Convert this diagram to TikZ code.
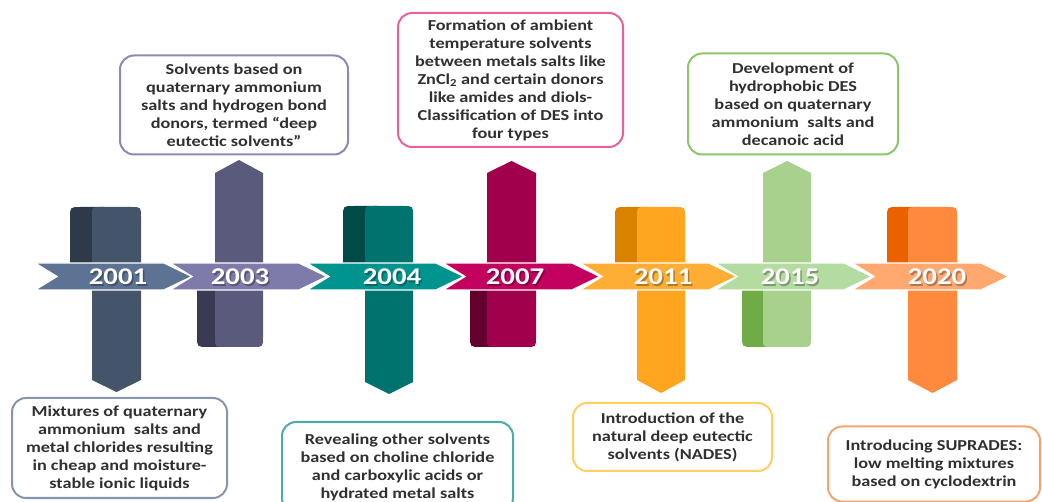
\documentclass[tikz,border=0pt]{standalone}
\usepackage{fontspec}
\newfontfamily\carl[FakeStretch=1.2]{Carlito}
\definecolor{bandA}{HTML}{5C7394}\definecolor{barA}{HTML}{445469}\definecolor{foldA}{HTML}{2E3A4A}\definecolor{boxA}{HTML}{8496B0}
\definecolor{bandB}{HTML}{7E7AAA}\definecolor{barB}{HTML}{5A5A7C}\definecolor{foldB}{HTML}{3A3A54}\definecolor{boxB}{HTML}{8C8AB5}
\definecolor{bandC}{HTML}{00948F}\definecolor{barC}{HTML}{00736E}\definecolor{foldC}{HTML}{004A47}\definecolor{boxC}{HTML}{4BACA6}
\definecolor{bandD}{HTML}{C3005E}\definecolor{barD}{HTML}{A0004C}\definecolor{foldD}{HTML}{63002E}\definecolor{boxD}{HTML}{E8609E}
\definecolor{bandE}{HTML}{FFAE35}\definecolor{barE}{HTML}{FFA51F}\definecolor{foldE}{HTML}{D98200}\definecolor{boxE}{HTML}{FFD060}
\definecolor{bandF}{HTML}{B5DCA0}\definecolor{barF}{HTML}{A8D18D}\definecolor{foldF}{HTML}{6FAC46}\definecolor{boxF}{HTML}{8CC66C}
\definecolor{bandG}{HTML}{FFA870}\definecolor{barG}{HTML}{FF8A3D}\definecolor{foldG}{HTML}{EA6100}\definecolor{boxG}{HTML}{F4A470}
\definecolor{txt}{HTML}{303030}
% #1 foldL #2 mainL #3 mainR #4 top #5 shoulder #6 tip #7 dark #8 light
\newcommand\DownRibbon[8]{%
  \fill[#7] (#1,272) -- (#1,#4+11) .. controls (#1,#4) .. (#1+11,#4) -- (#2+12,#4) -- (#2+12,272) -- cycle;
  \fill[#8] (#2,#5) -- (#2,#4+9) .. controls (#2,#4) .. (#2+9,#4) -- (#3-10,#4) .. controls (#3,#4) .. (#3,#4+10) -- (#3,#5) -- ({(#2+#3)/2},#6) -- cycle;
}
% #1 foldL #2 mainL #3 mainR #4 bottom #5 shoulder #6 tip #7 dark #8 light
\newcommand\UpRibbon[8]{%
  \fill[#7] (#1,282) -- (#1,#4-11) .. controls (#1,#4) .. (#1+11,#4) -- (#2+12,#4) -- (#2+12,282) -- cycle;
  \fill[#8] (#2,#5) -- ({(#2+#3)/2},#6) -- (#3,#5) -- (#3,#4-10) .. controls (#3,#4) .. (#3-10,#4) -- (#2+9,#4) .. controls (#2,#4) .. (#2,#4-9) -- cycle;
}
\newcommand\Chev[2]{%
  \filldraw[fill=#2, draw=white, line width=1.3pt] (#1,263) -- (#1+129,263) -- (#1+157,276.5) -- (#1+129,290) -- (#1,290) -- (#1+22,276.5) -- cycle;
}
\begin{document}
\begin{tikzpicture}[x=1pt,y=-1pt,
  year/.style={font=\carl\bfseries\fontsize{24}{24}\selectfont, text=white, inner sep=0pt},
  yshadow/.style={font=\carl\bfseries\fontsize{24}{24}\selectfont, text=black, opacity=0.3, inner sep=0pt},
  tbox/.style={draw, rounded corners=14pt, line width=2pt, fill=white, align=center,
    font=\carl\bfseries\fontsize{15.2}{18}\selectfont, text=txt, inner sep=0pt}]
\useasboundingbox (0,0) rectangle (1042,502);
\clip (0,0) rectangle (1042,502);
\fill[white] (0,0) rectangle (1042,502);

% ribbons
\DownRibbon{70}{92}{141}{207}{380}{392}{foldA}{barA}
\UpRibbon{197}{215}{263}{347}{173}{160}{foldB}{barB}
\DownRibbon{343}{365}{413}{206}{382}{394}{foldC}{barC}
\UpRibbon{470}{487}{536}{347}{173}{161}{foldD}{barD}
\DownRibbon{615}{637}{685}{207}{380}{393}{foldE}{barE}
\UpRibbon{742}{763}{811}{347}{173}{161}{foldF}{barF}
\DownRibbon{887}{908}{957}{207}{380}{393}{foldG}{barG}

% timeline band
\Chev{35}{bandA}
\Chev{170}{bandB}
\Chev{307}{bandC}
\Chev{443}{bandD}
\Chev{580}{bandE}
\Chev{715}{bandF}
\Chev{852}{bandG}

% years
\foreach \x/\yr in {118/2001,240/2003,392/2004,515/2007,663/2011,790/2015,937/2020}{
  \node[yshadow] (s\yr) at (\x+1.5,278.5) {\yr};
  \node[year] (y\yr) at (\x,277) {\yr};
}

% boxes
\node[tbox, draw=boxA, minimum width=215pt, minimum height=100pt] (b2001) at (119.5,448)
  {Mixtures of quaternary\\ammonium \ salts and\\metal chlorides resulting\\in cheap and moisture-\\stable ionic liquids};
\node[tbox, draw=boxB, minimum width=228pt, minimum height=99pt] (b2003) at (234,105)
  {Solvents based on\\quaternary ammonium\\salts and hydrogen bond\\donors, termed “deep\\eutectic solvents”};
\node[tbox, draw=boxC, minimum width=231pt, minimum height=90pt] (b2004) at (397.5,467)
  {Revealing other solvents\\based on choline chloride\\and carboxylic acids or\\hydrated metal salts};
\node[tbox, draw=boxD, minimum width=225pt, minimum height=134pt] (b2007) at (510.5,80)
  {Formation of ambient\\temperature solvents\\between metals salts like\\ZnCl\textsubscript{2} and certain donors\\like amides and diols-\\Classification of DES into\\four types};
\node[tbox, draw=boxE, minimum width=199pt, minimum height=68pt] (b2011) at (672.5,437)
  {Introduction of the\\natural deep eutectic\\solvents (NADES)};
\node[tbox, draw=boxF, minimum width=210pt, minimum height=101pt] (b2015) at (793,104)
  {Development of\\hydrophobic DES\\based on quaternary\\ammonium \ salts and\\decanoic acid};
\node[tbox, draw=boxG, minimum width=212pt, minimum height=75pt] (b2020) at (934,464)
  {Introducing SUPRADES:\\low melting mixtures\\based on cyclodextrin};
\end{tikzpicture}
\end{document}
